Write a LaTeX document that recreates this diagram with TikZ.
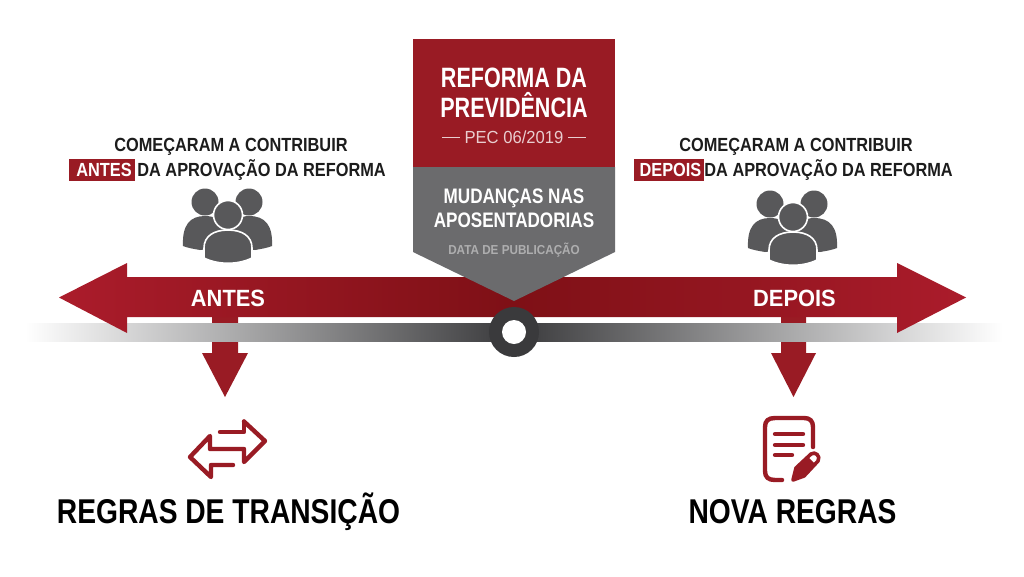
\documentclass[tikz,border=0pt]{standalone}
\usepackage{fontspec}
\setmainfont{Liberation Sans}
\newfontfamily\fT{Liberation Sans}[FakeStretch=0.77]
\newfontfamily\fM{Liberation Sans}[FakeStretch=0.815]
\newfontfamily\fU{Liberation Sans}[FakeStretch=0.86]
\newfontfamily\fA{Liberation Sans}[FakeStretch=0.93]
\newfontfamily\fP{Liberation Sans}[FakeStretch=0.95]
\newfontfamily\fD{Liberation Sans}[FakeStretch=0.90]
\newfontfamily\fB{Liberation Sans}[FakeStretch=0.82]
\definecolor{redd}{HTML}{991B24}
\definecolor{rede}{HTML}{AB1C2B}
\definecolor{redc}{HTML}{7E1016}
\definecolor{grayb}{HTML}{6B6B6D}
\definecolor{grayi}{HTML}{58585A}
\definecolor{ringc}{HTML}{3A3A3C}
\definecolor{inkc}{HTML}{1C1C1C}
\tikzset{
  x=1pt,y=-1pt,
  lbl/.style={inner sep=0pt,align=center},
  darklbl/.style={lbl,text=inkc},
  whitelbl/.style={lbl,text=white},
  uppertext/.style={font=\fU\bfseries\fontsize{19}{21}\selectfont},
  arrowtext/.style={whitelbl,font=\fA\bfseries\fontsize{23.500}{26}\selectfont},
  bottomtext/.style={lbl,text=black,font=\fB\bfseries\fontsize{34.400}{38}\selectfont},
  iconline/.style={draw=redd,line width=4.4pt,line cap=round,line join=round},
}
\newcommand{\people}[2]{%
\begin{scope}[shift={(#1,#2)}]
  \fill[grayi] (-23,-31) circle (13.500);
  \fill[grayi] (21,-31) circle (13.500);
  \fill[grayi] (-45,13) .. controls (-46,-8) and (-38,-17) .. (-23,-17)
     .. controls (-12,-17) and (-6,-12) .. (-2,-4) -- (-10,15) -- (-28,17) .. controls (-34,16) and (-40,15) .. (-45,13) -- cycle;
  \fill[grayi] (44,13) .. controls (45,-8) and (37,-17) .. (21,-17)
     .. controls (12,-17) and (6,-12) .. (2,-4) -- (10,15) -- (27,17) .. controls (33,16) and (39,15) .. (44,13) -- cycle;
  \fill[grayi,draw=white,line width=1.6pt] (0,-18) circle (14.500);
  \fill[grayi,draw=white,line width=1.6pt] (-24,25) -- (-24,15) .. controls (-24,3) and (-14,-3) .. (0,-3)
     .. controls (14,-3) and (24,3) .. (24,15) -- (24,25) .. controls (10,32) and (-10,32) .. (-24,25) -- cycle;
\end{scope}}
\begin{document}
\begin{tikzpicture}
\useasboundingbox (0,0) rectangle (1024,576);
\fill[white] (0,0) rectangle (1024,576);
% red down arrows
\fill[redd] (212,315) -- (238,315) -- (238,353) -- (248,353) -- (225,397) -- (202,353) -- (212,353) -- cycle;
\fill[redd] (781,315) -- (806,315) -- (806,353) -- (816,353) -- (793.500,397) -- (771,353) -- (781,353) -- cycle;
% gray timeline
\shade[left color=white,right color=ringc] (25,323) rectangle (514,341);
\shade[left color=ringc,right color=white] (514,323) rectangle (1003,341);
% red main arrow
\shade[left color=rede,right color=redc] (514,277) -- (127,277) -- (127,263) -- (59,297.500) -- (127,333) -- (127,317) -- (514,317) -- cycle;
\shade[left color=redc,right color=rede] (514,277) -- (897,277) -- (897,263) -- (966,297.500) -- (897,333) -- (897,317) -- (514,317) -- cycle;
% ring
\fill[ringc] (514,332) circle (25);
\fill[white] (514,332) circle (12);
% banner
\fill[grayb] (413,167) -- (615,167) -- (615,252) -- (514,301) -- (413,252) -- cycle;
\fill[redd] (413,39) rectangle (615,167);
\node[whitelbl,font=\fT\bfseries\fontsize{28}{30}\selectfont] (title) at (514,93) {REFORMA DA\\PREVIDÊNCIA};
\node[lbl,text=white!78!redd,font=\fP\fontsize{17.500}{20}\selectfont] (pec) at (514,137.500) {PEC 06/2019};
\draw[white!78!redd,line width=1.6pt] (442,137.500) -- (460,137.500) (568,137.500) -- (586,137.500);
\node[whitelbl,font=\fM\bfseries\fontsize{21}{24}\selectfont] (mud) at (514,208) {MUDANÇAS NAS\\APOSENTADORIAS};
\node[lbl,text=white!45!grayb,font=\fD\bfseries\fontsize{13}{15}\selectfont] (data) at (514,250) {DATA DE PUBLICAÇÃO};
% upper texts
\node[darklbl,uppertext] (c1) at (231,146.500) {COMEÇARAM A CONTRIBUIR};
\fill[redd] (69,158.500) rectangle (135,180.500);
\node[whitelbl,uppertext] (a1) at (104,170) {ANTES};
\node[darklbl,uppertext,anchor=east] (d1) at (386,170) {DA APROVAÇÃO DA REFORMA};
\node[darklbl,uppertext] (c2) at (796,146.500) {COMEÇARAM A CONTRIBUIR};
\fill[redd] (634,158.500) rectangle (704,180.500);
\node[whitelbl,uppertext] (a2) at (670.500,170) {DEPOIS};
\node[darklbl,uppertext,anchor=east] (d2) at (953,170) {DA APROVAÇÃO DA REFORMA};
\people{228}{233}
\people{793}{235}
% labels on arrow
\node[arrowtext] (antes) at (228,298) {ANTES};
\node[arrowtext] (depois) at (794.500,298) {DEPOIS};
% exchange icon
\draw[iconline] (244,421.500) -- (265,441) -- (244,462) -- (244,449) -- (210,449) -- (210,436) -- (190,457) -- (211,477) -- (211,465) -- (233,465);
\draw[iconline] (220,432) -- (244,432) -- (244,421.500);
% document icon
\draw[iconline] (782,480) -- (775,480) .. controls (768,480) and (765,477) .. (765,471) -- (765,427)
   .. controls (765,421) and (768,418) .. (775,418) -- (804,418) .. controls (810,418) and (813,421) .. (813,427) -- (813,447);
\draw[iconline] (775,434) -- (803,434) (775,445) -- (803,445) (775,455) -- (792,455);
\draw[iconline,line width=3.6pt] (793,480) -- (796,468) -- (811,454) .. controls (815,451) and (821,456) .. (818,461) -- (804,476) -- cycle;
\fill[redd] (793,480) -- (796,468) -- (804,476) -- cycle (796,468) -- (808,457) -- (815,464) -- (804,476) -- cycle;
\fill[white] (814.500,458.500) circle (1.800);
% bottom titles
\node[bottomtext] (rt) at (228.500,512) {REGRAS DE TRANSIÇÃO};
\node[bottomtext] (nr) at (792.500,512) {NOVA REGRAS};
\end{tikzpicture}
\end{document}
